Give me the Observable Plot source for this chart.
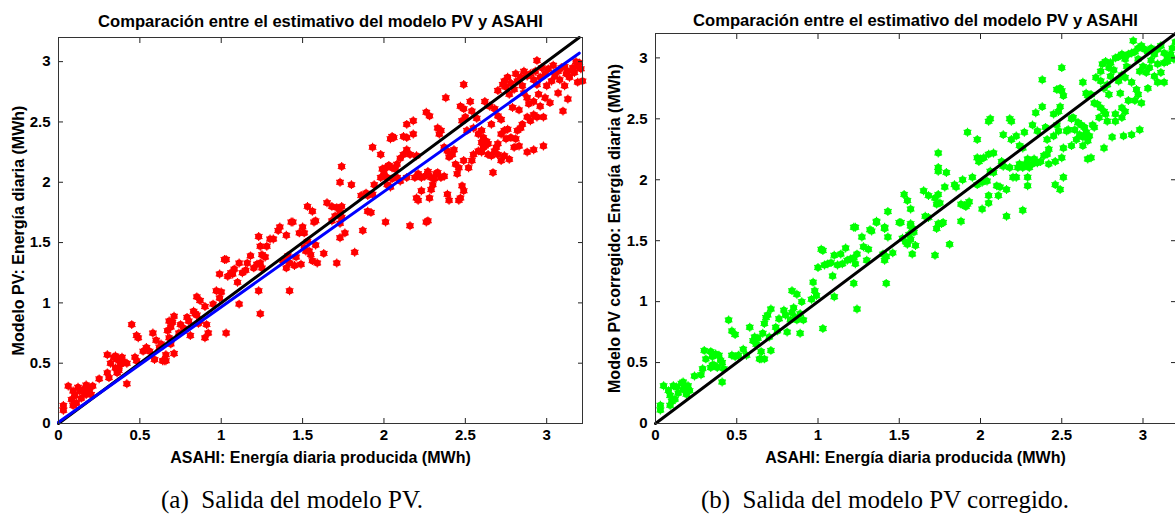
<!DOCTYPE html>
<html><head><meta charset="utf-8">
<script src="https://cdn.jsdelivr.net/npm/d3@7"></script>
<script src="https://cdn.jsdelivr.net/npm/@observablehq/plot@0.6"></script>
<style>
body{margin:0;background:#fff;}
#wrap{position:relative;width:1175px;height:517px;overflow:hidden;background:#fff;}
#a{position:absolute;left:0;top:0;}
#b{position:absolute;left:590px;top:0;}
.cap{position:absolute;top:486px;font-family:"Liberation Serif","Times New Roman",serif;font-size:25px;line-height:28px;color:#000;text-align:center;white-space:pre;}
</style></head><body>
<div id="wrap"><div id="a"></div><div id="b"></div>
<div class="cap" style="left:0;width:584px">(a)  Salida del modelo PV.</div>
<div class="cap" style="left:590px;width:590px">(b)  Salida del modelo PV corregido.</div>
</div>
<script>
const titleText = "Comparación entre el estimativo del modelo PV y ASAHI";
const xLabel = "ASAHI: Energía diaria producida (MWh)";
const yLabelA = "Modelo PV: Energía diaria (MWh)";
const yLabelB = "Modelo PV corregido: Energía diaria (MWh)";
const xTicks = [0, 0.5, 1, 1.5, 2, 2.5, 3];
const yTicks = [0, 0.5, 1, 1.5, 2, 2.5, 3];
const identityLine = [[0, 0], [3.2, 3.2]];
const fitLine = [[0, 0.01], [3.2, 3.07]];

const modeloPV = [
[0.03,0.11],[0.03,0.15],[0.06,0.31],[0.08,0.20],[0.09,0.27],[0.10,0.23],[0.11,0.17],[0.09,0.15],[0.12,0.30],[0.13,0.27],[0.14,0.21],[0.15,0.28],[0.17,0.32],[0.18,0.30],[0.19,0.27],[0.17,0.24],[0.16,0.26],[0.21,0.31],[0.20,0.24],[0.25,0.37],[0.30,0.42],[0.31,0.38],[0.32,0.50],[0.30,0.57],[0.34,0.55],[0.35,0.56],[0.36,0.53],[0.37,0.46],[0.38,0.49],[0.39,0.55],[0.40,0.51],[0.35,0.46],[0.37,0.44],[0.36,0.42],[0.42,0.33],[0.42,0.50],[0.45,0.82],[0.48,0.73],[0.49,0.71],[0.47,0.55],[0.48,0.52],[0.52,0.60],[0.54,0.63],[0.56,0.60],[0.58,0.75],[0.59,0.53],[0.60,0.69],[0.63,0.66],[0.62,0.63],[0.64,0.52],[0.65,0.52],[0.66,0.52],[0.66,0.57],[0.67,0.77],[0.68,0.85],[0.69,0.80],[0.70,0.84],[0.71,0.89],[0.68,0.71],[0.69,0.66],[0.71,0.58],[0.75,0.82],[0.74,0.75],[0.77,0.79],[0.79,0.88],[0.80,0.85],[0.81,0.73],[0.83,0.93],[0.84,0.91],[0.85,0.90],[0.86,0.83],[0.87,0.85],[0.85,1.05],[0.87,1.02],[0.90,0.97],[0.91,0.82],[0.90,0.71],[0.92,0.75],[0.95,0.99],[0.97,1.10],[0.99,1.04],[1.00,1.09],[0.99,1.24],[1.02,1.36],[1.03,1.36],[1.03,0.75],[1.04,1.22],[1.06,1.25],[1.07,1.24],[1.08,1.28],[1.10,1.17],[1.11,0.99],[1.11,1.33],[1.13,1.25],[1.15,1.27],[1.16,1.33],[1.18,1.39],[1.20,1.29],[1.22,1.32],[1.24,1.33],[1.25,1.29],[1.23,1.10],[1.24,0.91],[1.23,1.55],[1.24,1.47],[1.25,1.40],[1.27,1.38],[1.28,1.47],[1.30,1.53],[1.32,1.53],[1.35,1.60],[1.36,1.63],[1.40,1.56],[1.43,1.67],[1.44,1.67],[1.38,1.35],[1.40,1.29],[1.41,1.39],[1.42,1.33],[1.45,1.31],[1.46,1.38],[1.42,1.10],[1.48,1.58],[1.49,1.32],[1.50,1.63],[1.51,1.46],[1.51,1.58],[1.52,1.43],[1.53,1.51],[1.53,1.80],[1.54,1.43],[1.55,1.40],[1.56,1.35],[1.56,1.76],[1.57,1.67],[1.58,1.48],[1.58,1.68],[1.59,1.33],[1.63,1.41],
[1.65,1.83],[1.68,1.80],[1.71,1.79],[1.74,1.80],[1.70,1.72],[1.73,1.75],[1.74,1.71],[1.68,1.68],[1.71,1.33],[1.73,1.54],[1.73,1.66],[1.76,1.58],[1.73,2.00],[1.74,2.13],[1.80,1.98],[1.82,1.42],[1.87,1.60],[1.86,1.89],[1.89,1.91],[1.90,1.89],[1.93,1.90],[1.94,1.98],[1.92,1.75],[1.90,1.76],[1.93,2.29],[1.98,2.23],[1.99,2.11],[2.01,2.12],[2.03,2.14],[2.05,2.12],[2.07,2.11],[2.08,2.15],[2.04,2.36],[2.05,2.38],[2.06,2.37],[2.00,2.08],[2.02,2.04],[2.05,2.03],[2.08,2.04],[2.10,2.01],[2.14,2.04],[2.19,2.04],[2.21,2.07],[2.23,2.04],[2.25,2.05],[2.27,2.07],[2.29,2.04],[2.31,2.03],[2.32,2.07],[2.33,2.08],[2.35,2.04],[2.37,2.05],[1.98,2.04],[2.02,1.98],[2.04,1.96],[2.01,1.67],[2.10,2.20],[2.12,2.23],[2.16,2.23],[2.14,2.27],[2.20,2.22],[2.12,2.38],[2.14,2.37],[2.18,2.40],[2.14,2.48],[2.18,2.51],[2.20,1.87],[2.21,1.85],[2.23,1.93],[2.28,1.87],[2.29,1.94],[2.30,1.98],[2.27,2.09],[2.26,2.58],[2.28,2.55],[2.27,1.68],[2.16,1.64],[2.26,1.67],[2.33,2.45],[2.34,2.40],[2.35,2.43],[2.37,2.29],[2.39,2.26],[2.40,2.21],[2.42,2.23],[2.43,2.27],[2.44,2.15],[2.46,2.12],[2.45,2.07],[2.49,2.18],[2.48,1.97],[2.49,1.93],[2.47,1.87],[2.46,1.85],[2.39,1.90],[2.40,1.85],[2.38,2.70],[2.49,2.81],[2.47,2.63],[2.49,2.61],[2.48,2.51],[2.50,2.54],[2.51,2.43],[2.53,2.67],[2.54,2.59],
[2.55,2.45],[2.58,2.40],[2.60,2.43],[2.61,2.37],[2.63,2.34],[2.60,2.33],[2.62,2.30],[2.64,2.32],[2.61,2.29],[2.58,2.26],[2.55,2.23],[2.54,2.18],[2.52,2.12],[2.60,2.25],[2.64,2.23],[2.66,2.22],[2.68,2.26],[2.69,2.29],[2.70,2.32],[2.72,2.40],[2.74,2.43],[2.76,2.44],[2.78,2.37],[2.81,2.36],[2.82,2.43],[2.84,2.45],[2.85,2.48],[2.62,2.67],[2.65,2.63],[2.68,2.61],[2.70,2.55],[2.72,2.52],[2.67,2.08],[2.70,2.23],[2.72,2.18],[2.74,2.22],[2.73,2.81],[2.74,2.84],[2.76,2.87],[2.75,2.79],[2.77,2.73],[2.80,2.77],[2.82,2.84],[2.84,2.87],[2.85,2.80],[2.86,2.74],[2.88,2.88],[2.90,2.90],[2.92,2.85],[2.93,2.92],[2.94,2.81],[2.96,2.87],[2.99,2.90],[3.01,2.94],[3.03,2.84],[3.05,2.88],[3.07,2.92],[3.09,2.95],[3.11,2.96],[3.12,2.90],[3.13,2.92],[3.16,2.95],[3.17,2.91],[3.19,2.96],[3.20,2.99],[3.21,2.94],[2.94,3.01],[2.88,2.70],[2.89,2.65],[2.92,2.67],[2.95,2.73],[2.96,2.63],[2.99,2.70],[3.02,2.66],[3.07,2.74],[3.11,2.80],[3.13,2.69],[2.88,2.54],[2.90,2.51],[2.92,2.56],[2.94,2.54],[2.98,2.54],[2.80,2.29],[2.83,2.30],[2.88,2.25],[2.92,2.27],[2.98,2.30],[2.77,2.19],[3.10,2.59],[3.19,2.83],[3.22,2.84],
[2.78,2.82],[2.81,2.90],[2.86,2.92],[2.97,2.95],[3.00,2.80],[3.04,2.97],[3.08,2.85],[3.14,2.87],[3.18,3.00],[2.70,2.76],[2.79,2.62],[2.83,2.60],[2.57,2.53],[2.66,2.48],[2.75,2.36]
];

const modeloCorregido = [
[0.03,0.11],[0.03,0.15],[0.05,0.31],[0.08,0.27],[0.09,0.23],[0.10,0.18],[0.09,0.15],[0.11,0.31],[0.13,0.30],[0.14,0.25],[0.12,0.20],[0.16,0.33],[0.17,0.34],[0.18,0.30],[0.20,0.31],[0.21,0.27],[0.17,0.28],[0.19,0.24],[0.24,0.39],[0.28,0.40],[0.30,0.60],[0.29,0.45],[0.31,0.53],[0.34,0.59],[0.35,0.55],[0.36,0.48],[0.37,0.57],[0.38,0.46],[0.39,0.56],[0.40,0.52],[0.41,0.50],[0.34,0.46],[0.35,0.48],[0.41,0.34],[0.42,0.45],[0.45,0.85],[0.47,0.76],[0.49,0.73],[0.47,0.56],[0.49,0.55],[0.51,0.56],[0.54,0.61],[0.56,0.56],[0.58,0.79],[0.60,0.68],[0.61,0.71],[0.62,0.65],[0.63,0.70],[0.64,0.53],[0.65,0.53],[0.67,0.53],[0.65,0.59],[0.66,0.74],[0.67,0.82],[0.68,0.87],[0.69,0.89],[0.71,0.94],[0.70,0.71],[0.71,0.60],[0.74,0.79],[0.76,0.86],[0.75,0.76],[0.79,0.93],[0.80,0.89],[0.81,0.75],[0.83,0.85],[0.84,0.91],[0.85,0.95],[0.86,0.87],[0.87,0.85],[0.84,1.09],[0.87,1.06],[0.89,0.90],[0.90,1.00],[0.91,0.85],[0.89,0.74],[0.96,1.02],[0.97,1.16],[0.98,1.09],[0.99,1.05],[1.00,1.28],[1.02,1.43],[1.03,1.42],[1.03,0.78],[1.04,1.30],[1.06,1.31],[1.08,1.32],[1.09,1.21],[1.10,1.04],[1.10,1.38],[1.12,1.30],[1.14,1.39],[1.15,1.31],[1.17,1.44],[1.18,1.34],[1.20,1.35],[1.22,1.36],[1.23,1.31],[1.24,1.39],[1.22,1.15],[1.24,0.94],[1.22,1.61],[1.23,1.61],[1.27,1.53],[1.28,1.45],[1.30,1.34],[1.31,1.43],[1.32,1.59],[1.33,1.58],[1.36,1.65],[1.36,1.66],[1.41,1.60],[1.41,1.61],[1.43,1.53],[1.43,1.74],[1.40,1.39],[1.41,1.34],[1.42,1.37],[1.42,1.15],[1.46,1.40],[1.50,1.65],[1.51,1.65],[1.52,1.52],[1.53,1.88],[1.54,1.49],[1.55,1.47],[1.55,1.83],[1.56,1.55],[1.57,1.51],[1.57,1.62],[1.57,1.76],[1.58,1.39],[1.58,1.60],[1.59,1.57],[1.60,1.46],[1.57,1.64],
[1.65,1.91],[1.68,1.87],[1.72,1.85],[1.74,1.88],[1.73,1.80],[1.75,1.81],[1.74,1.64],[1.77,1.65],[1.66,1.70],[1.68,1.69],[1.72,1.38],[1.73,1.60],[1.76,1.64],[1.81,1.47],[1.88,1.66],[1.74,2.22],[1.74,2.10],[1.74,2.07],[1.79,2.06],[1.78,1.94],[1.84,1.96],[1.85,1.94],[1.89,2.00],[1.88,1.80],[1.90,1.79],[1.92,1.80],[1.93,1.82],[1.91,1.78],[1.92,2.39],[1.98,2.33],[1.98,2.18],[1.99,2.15],[2.00,2.17],[2.02,2.18],[2.05,2.21],[2.08,2.22],[1.95,2.02],[1.98,1.96],[2.01,1.98],[2.04,1.99],[2.01,1.76],[2.05,1.87],[2.05,1.81],[2.10,1.95],[2.12,1.94],[2.11,1.87],[2.06,2.07],[2.08,2.06],[2.13,2.15],[2.14,2.11],[2.16,1.70],[2.16,1.92],[2.18,2.10],[2.20,2.02],[2.22,2.02],[2.23,2.10],[2.24,2.13],[2.26,2.10],[2.28,2.13],[2.29,2.17],[2.30,2.10],[2.32,2.13],[2.33,2.17],[2.35,2.14],[2.37,2.15],[2.39,2.20],[2.41,2.21],[2.42,2.13],[2.46,2.15],[2.19,2.33],[2.22,2.36],[2.14,2.37],[2.18,2.50],[2.19,2.48],[2.05,2.48],[2.06,2.50],[2.27,2.39],[2.24,2.28],[2.26,2.26],[2.26,1.75],[2.29,2.02],[2.29,1.95],[2.32,2.45],[2.34,2.55],[2.35,2.40],[2.38,2.60],[2.38,2.82],[2.40,2.43],[2.41,2.33],[2.42,2.25],[2.45,2.36],[2.48,2.40],[2.47,2.45],[2.45,2.54],[2.48,2.56],[2.49,2.60],[2.47,2.74],[2.49,2.75],[2.50,2.73],[2.50,2.92],[2.51,2.69],[2.46,1.96],[2.49,1.92],[2.51,2.02],[2.50,2.18],[2.51,2.26],[2.53,2.40],[2.54,2.41],[2.56,2.50],[2.57,2.51],
[2.56,2.28],[2.59,2.33],[2.58,2.41],[2.60,2.47],[2.61,2.37],[2.62,2.45],[2.63,2.35],[2.64,2.43],[2.66,2.32],[2.65,2.39],[2.67,2.36],[2.69,2.45],[2.70,2.43],[2.63,2.80],[2.65,2.71],[2.66,2.69],[2.68,2.70],[2.63,2.28],[2.66,2.17],[2.68,2.18],[2.70,2.63],[2.72,2.62],[2.74,2.59],[2.76,2.56],[2.77,2.54],[2.78,2.48],[2.73,2.51],[2.74,2.89],[2.75,2.95],[2.77,2.97],[2.79,2.92],[2.80,2.96],[2.83,3.00],[2.85,3.01],[2.87,3.03],[2.89,2.99],[2.91,3.03],[2.93,3.04],[2.95,3.05],[2.97,3.08],[2.99,3.10],[3.01,3.07],[3.03,3.05],[3.05,3.08],[3.07,3.03],[3.09,3.07],[3.11,3.10],[3.13,3.04],[3.15,3.00],[3.17,3.03],[3.19,2.99],[2.94,3.14],[2.74,2.81],[2.76,2.75],[2.78,2.78],[2.80,2.85],[2.85,2.81],[2.87,2.86],[2.89,2.84],[2.93,2.80],[2.96,2.74],[2.98,2.89],[3.00,2.93],[3.02,2.88],[3.04,2.92],[3.07,2.85],[3.09,2.95],[3.13,2.96],[3.15,2.97],[2.86,2.71],[2.87,2.59],[2.83,2.54],[2.83,2.48],[2.87,2.51],[2.89,2.56],[2.91,2.65],[2.95,2.65],[2.97,2.70],[2.99,2.63],[3.03,2.75],[3.09,2.80],[3.13,2.80],[2.81,2.35],[2.88,2.36],[2.93,2.37],[2.98,2.41],[2.76,2.26],
[2.82,2.90],[2.90,2.93],[3.05,2.98],[3.18,3.08],[3.11,2.88],[2.97,2.99],[2.71,2.84],[2.79,2.70],[3.20,3.13]
];

const fmt = d3.format("~g");
const font = "'Liberation Sans', Arial, Helvetica, sans-serif";

function panel({data, color, showFit, yLabel, width, ml, mt, mr, mb, xMax, titleDy, yLabelDx}) {
  const marks = [
    Plot.dot(data, {x: d => d[0], y: d => d[1], r: 3.5, fill: color}),
    Plot.dot(data, {x: d => d[0], y: d => d[1], r: 4.2, symbol: "asterisk", stroke: color, strokeWidth: 1.1}),
    Plot.line(identityLine, {x: d => d[0], y: d => d[1], stroke: "black", strokeWidth: 3})
  ];
  if (showFit) marks.push(Plot.line(fitLine, {x: d => d[0], y: d => d[1], stroke: "#0000ff", strokeWidth: 3}));
  marks.push(
    Plot.axisX({anchor: "bottom", ticks: xTicks, tickSize: 0, tickPadding: 6, tickFormat: fmt, label: null, fontWeight: "bold"}),
    Plot.axisY({anchor: "left", ticks: yTicks, tickSize: 0, tickPadding: 8, tickFormat: fmt, label: null, fontWeight: "bold"}),
    Plot.axisX({anchor: "bottom", ticks: xTicks, tickSize: -5, tickFormat: () => "", label: null, stroke: "#222"}),
    Plot.axisX({anchor: "top", ticks: xTicks, tickSize: -5, tickFormat: () => "", label: null, stroke: "#222"}),
    Plot.axisY({anchor: "left", ticks: yTicks, tickSize: -5, tickFormat: () => "", label: null, stroke: "#222"}),
    Plot.axisY({anchor: "right", ticks: yTicks, tickSize: -5, tickFormat: () => "", label: null, stroke: "#222"}),
    Plot.frame({stroke: "#333", strokeWidth: 1}),
    Plot.text([titleText], {frameAnchor: "top", textAnchor: "middle", dy: titleDy, fontWeight: "bold", fontSize: 16.6}),
    Plot.text([xLabel], {frameAnchor: "bottom", textAnchor: "middle", dy: 39, fontWeight: "bold", fontSize: 16}),
    Plot.text([yLabel], {frameAnchor: "left", textAnchor: "middle", dx: yLabelDx, rotate: -90, fontWeight: "bold", fontSize: 16})
  );
  return Plot.plot({
    width, height: 517,
    marginLeft: ml, marginTop: mt, marginRight: mr, marginBottom: mb,
    style: {fontFamily: font, fontSize: "15px", color: "black", background: "transparent", overflow: "visible"},
    x: {domain: [0, xMax]},
    y: {domain: [0, 3.2]},
    marks
  });
}

document.getElementById("a").appendChild(panel({
  data: modeloPV, color: "#ff0000", showFit: true, yLabel: yLabelA,
  width: 590, ml: 58, mt: 37, mr: 8, mb: 94, xMax: 3.22, titleDy: -22, yLabelDx: -40
}));
document.getElementById("b").appendChild(panel({
  data: modeloCorregido, color: "#00ff00", showFit: false, yLabel: yLabelB,
  width: 585, ml: 65, mt: 33, mr: 0, mb: 94, xMax: 3.2, titleDy: -19, yLabelDx: -41
}));
</script>
</body></html>
